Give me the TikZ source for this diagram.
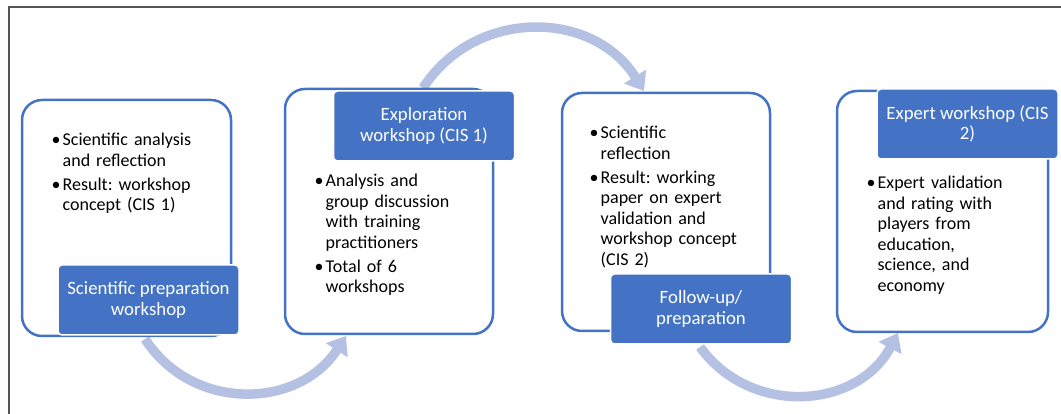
\documentclass[tikz,border=0pt]{standalone}
\usepackage{fontspec}
\setmainfont{Carlito}
\usetikzlibrary{arrows.meta}
\definecolor{accent}{RGB}{68,114,196}
\definecolor{flowc}{RGB}{180,193,227}
\definecolor{framec}{RGB}{85,85,85}
\newcommand{\bulset}{\frenchspacing\parskip=0pt\parindent=0pt\leftskip=7.5pt\rightskip=0pt plus 1fil\relax}
\newcommand{\bul}[1]{\par\noindent\llap{\textbullet\kern2pt}#1}
\newcommand{\bulsep}{\par\vspace{3.5pt}}
\tikzset{
  outl/.style={draw=accent, line width=2.5pt, rounded corners=20pt, fill=white, inner sep=0pt},
  lab/.style={fill=accent, draw=white, line width=1.5pt, rounded corners=4pt,
    minimum width=181pt, minimum height=70pt, text=white, align=center, inner sep=0pt,
    font=\fontsize{18.8}{20.5}\selectfont\frenchspacing},
  bullets/.style={anchor=north west, inner sep=0pt, text width=190pt,
    font=\fontsize{18}{20.5}\selectfont},
  flow/.style={draw=flowc, line width=9.5pt, -{Triangle[width=25pt,length=17pt]}},
  framel/.style={draw=framec, line width=1.3pt}
}
\begin{document}
\begin{tikzpicture}[x=1pt,y=1pt]
\useasboundingbox (0,0) rectangle (1061,414);
% frame
\coordinate (f1) at (9,0);
\coordinate (f2) at (9,407);
\coordinate (f3) at (1061,407);
\draw[framel] (f1) -- (f2) -- (f3);
% arrows
\coordinate (a1s) at (145,75);
\coordinate (a1e) at (346,78);
\coordinate (a2s) at (423,326);
\coordinate (a2e) at (644,323);
\coordinate (a3s) at (700,67);
\coordinate (a3e) at (898,81);
\draw[flow] (a1s) to[out=303,in=237,looseness=1.11] (a1e);
\draw[flow] (a2s) to[out=57,in=122,looseness=1.11] (a2e);
\draw[flow] (a3s) to[out=306,in=242,looseness=1.115] (a3e);
% outlines
\node[outl, minimum width=209pt, minimum height=236pt] (o1) at (126.5,196) {};
\node[outl, minimum width=208pt, minimum height=245pt] (o2) at (389,202.5) {};
\node[outl, minimum width=208pt, minimum height=238pt] (o3) at (666,202) {};
\node[outl, minimum width=211pt, minimum height=241pt] (o4) at (942.5,202.5) {};
% labels
\node[lab] (l1) at (148.5,114) {Scientific preparation\\workshop};
\node[lab] (l2) at (424,288) {Exploration\\workshop (CIS 1)};
\node[lab] (l3) at (701,105) {Follow-up/\\preparation};
\node[lab] (l4) at (967.5,290) {Expert workshop (CIS\\2)};
% bullets
\node[bullets] (t1) at (55,289) {\bulset\bul{Scientific analysis\\and reflection}\bulsep\bul{Result: workshop\\concept (CIS 1)}\par};
\node[bullets] (t2) at (318,248) {\bulset\bul{Analysis and\\group discussion\\with training\\practitioners}\bulsep\bul{Total of 6\\workshops}\par};
\node[bullets] (t3) at (593,296) {\bulset\bul{Scientific\\reflection}\bulsep\bul{Result: working\\paper on expert\\validation and\\workshop concept\\(CIS 2)}\par};
\node[bullets] (t4) at (870,246) {\bulset\bul{Expert validation\\and rating with\\players from\\education,\\science, and\\economy}\par};
\end{tikzpicture}
\end{document}
